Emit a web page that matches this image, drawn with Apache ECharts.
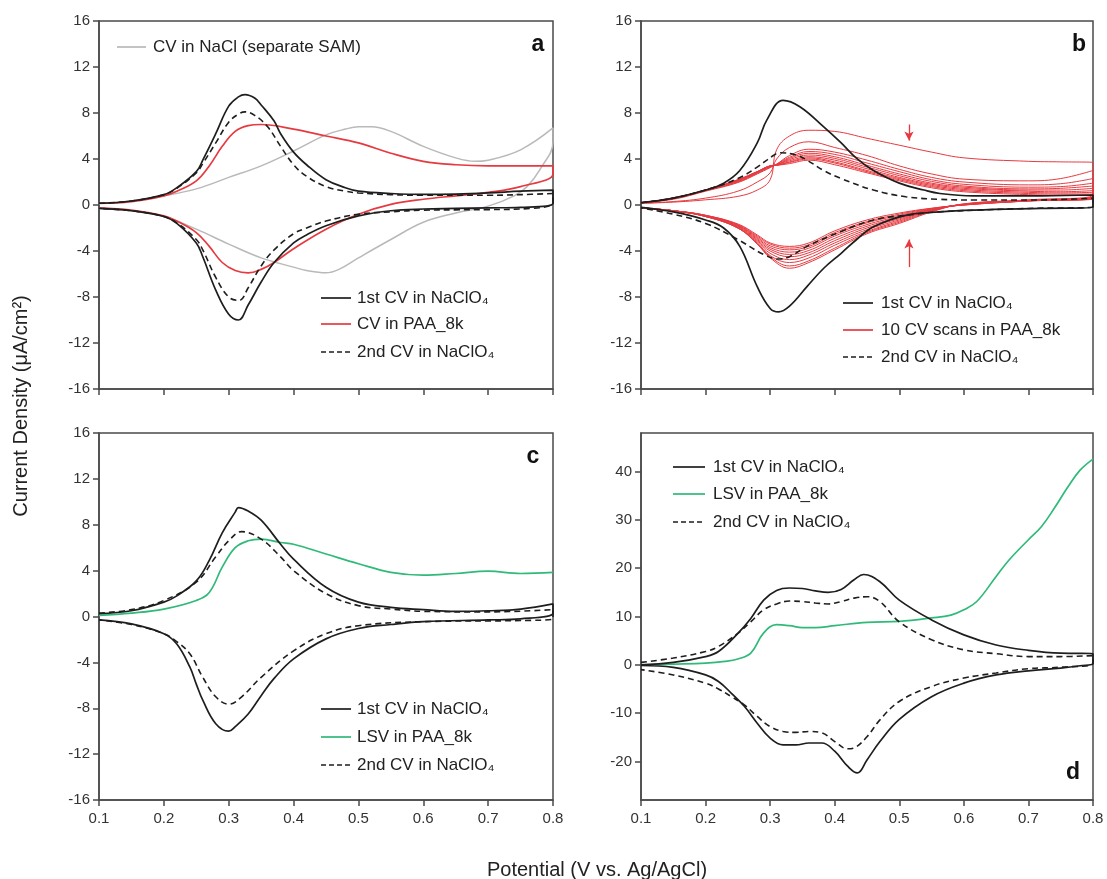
<!DOCTYPE html>
<html><head><meta charset="utf-8">
<script src="https://cdn.jsdelivr.net/npm/echarts@6/dist/echarts.min.js"></script>
<style>html,body{margin:0;padding:0;background:#fff}#c{width:1107px;height:879px}</style>
</head><body><div id="c"></div>
<script>
// ---------- DATA (potential V, current density) ----------
const X_TICKS = [0.1, 0.2, 0.3, 0.4, 0.5, 0.6, 0.7, 0.8];
const D_YTICKS = [-20, -10, 0, 10, 20, 30, 40];

// Panel a
const A_CV1 = [[0.10,0.15],[0.15,0.35],[0.20,0.9],[0.22,1.5],[0.25,2.9],[0.26,3.9],[0.28,6.2],[0.30,8.6],[0.315,9.4],[0.325,9.6],[0.34,9.3],[0.35,8.7],[0.37,7.3],[0.38,6.2],[0.40,4.6],[0.42,3.5],[0.45,2.2],[0.48,1.5],[0.50,1.2],[0.55,1.0],[0.60,0.92],[0.65,0.95],[0.70,1.05],[0.75,1.2],[0.80,1.3],
  [0.80,0.15],[0.75,-0.2],[0.70,-0.25],[0.65,-0.3],[0.60,-0.35],[0.55,-0.5],[0.50,-0.95],[0.45,-1.8],[0.42,-2.6],[0.40,-3.3],[0.37,-5.0],[0.35,-6.7],[0.33,-8.7],[0.315,-10.0],[0.30,-9.5],[0.28,-7.4],[0.26,-4.5],[0.25,-3.3],[0.22,-1.6],[0.20,-1.0],[0.15,-0.5],[0.10,-0.3]];
const A_CV2 = [[0.10,0.15],[0.15,0.35],[0.20,0.9],[0.22,1.45],[0.25,2.8],[0.26,3.6],[0.28,5.4],[0.30,7.2],[0.315,7.9],[0.325,8.1],[0.34,7.8],[0.36,6.8],[0.38,5.1],[0.40,3.5],[0.42,2.5],[0.45,1.6],[0.48,1.2],[0.50,1.05],[0.55,0.9],[0.60,0.85],[0.65,0.85],[0.70,0.85],[0.75,0.9],[0.80,1.0],
  [0.80,0.2],[0.75,-0.35],[0.70,-0.4],[0.65,-0.42],[0.60,-0.45],[0.55,-0.6],[0.50,-0.8],[0.45,-1.4],[0.42,-2.0],[0.40,-2.5],[0.37,-3.9],[0.35,-5.3],[0.33,-7.2],[0.316,-8.3],[0.30,-8.0],[0.28,-6.3],[0.26,-3.9],[0.25,-3.0],[0.22,-1.55],[0.20,-1.0],[0.15,-0.5],[0.10,-0.3]];
const A_PAA = [[0.10,0.15],[0.15,0.3],[0.20,0.8],[0.22,1.2],[0.25,2.1],[0.27,3.4],[0.29,5.1],[0.31,6.4],[0.33,6.9],[0.35,7.0],[0.40,6.6],[0.45,6.0],[0.50,5.4],[0.55,4.5],[0.60,3.8],[0.65,3.5],[0.70,3.4],[0.75,3.4],[0.80,3.4],
  [0.80,2.7],[0.75,1.6],[0.70,1.1],[0.65,0.8],[0.60,0.5],[0.55,0.05],[0.50,-0.8],[0.45,-2.1],[0.40,-3.8],[0.37,-5.0],[0.35,-5.6],[0.33,-5.9],[0.31,-5.7],[0.29,-5.0],[0.27,-3.6],[0.25,-2.4],[0.22,-1.4],[0.20,-0.95],[0.15,-0.45],[0.10,-0.25]];
const A_NACL = [[0.10,0.1],[0.15,0.35],[0.20,0.8],[0.25,1.4],[0.30,2.4],[0.35,3.4],[0.40,4.7],[0.45,6.1],[0.48,6.6],[0.50,6.8],[0.52,6.8],[0.55,6.4],[0.60,5.1],[0.65,4.1],[0.68,3.8],[0.70,3.9],[0.75,4.8],[0.80,6.7],
  [0.80,5.5],[0.78,3.1],[0.76,1.6],[0.74,0.8],[0.70,-0.1],[0.65,-0.7],[0.60,-1.5],[0.55,-3.0],[0.50,-4.6],[0.47,-5.6],[0.45,-5.9],[0.42,-5.7],[0.40,-5.4],[0.35,-4.6],[0.30,-3.4],[0.25,-2.1],[0.20,-1.0],[0.15,-0.5],[0.10,-0.3]];

// Panel b
const B_CV1 = [[0.10,0.2],[0.15,0.6],[0.20,1.3],[0.228,1.9],[0.253,3.0],[0.28,5.4],[0.295,7.4],[0.32,9.1],[0.346,8.55],[0.383,6.8],[0.41,5.4],[0.434,4.05],[0.46,3.0],[0.50,1.9],[0.538,1.3],[0.563,1.0],[0.615,0.8],[0.72,0.8],[0.80,0.87],
  [0.80,-0.2],[0.72,-0.3],[0.615,-0.45],[0.563,-0.6],[0.51,-0.9],[0.46,-1.9],[0.434,-3.0],[0.41,-4.2],[0.383,-5.5],[0.357,-7.1],[0.33,-8.8],[0.313,-9.3],[0.30,-9.0],[0.28,-7.1],[0.253,-3.6],[0.228,-2.0],[0.20,-1.3],[0.15,-0.6],[0.10,-0.2]];
const B_CV2 = [[0.10,0.2],[0.15,0.6],[0.20,1.3],[0.25,2.3],[0.28,3.3],[0.305,4.3],[0.315,4.55],[0.34,4.35],[0.357,3.9],[0.383,3.0],[0.41,2.3],[0.46,1.3],[0.51,0.72],[0.56,0.5],[0.62,0.43],[0.70,0.43],[0.80,0.58],
  [0.80,-0.15],[0.70,-0.3],[0.62,-0.45],[0.56,-0.6],[0.51,-0.9],[0.46,-1.3],[0.41,-2.3],[0.357,-3.6],[0.33,-4.5],[0.313,-4.7],[0.29,-4.3],[0.25,-3.0],[0.20,-1.6],[0.15,-0.8],[0.10,-0.25]];
// 10 CV scans in PAA_8k: forward potentials / reverse potentials, one row per scan
const B_PAA_UP_V = [0.10,0.15,0.20,0.25,0.28,0.30,0.31,0.33,0.36,0.40,0.45,0.50,0.55,0.60,0.70,0.75,0.80];
const B_PAA_DN_V = [0.80,0.70,0.60,0.55,0.50,0.45,0.40,0.36,0.33,0.30,0.28,0.25,0.20,0.15,0.10];
const B_PAA_UP = [
  [0.15,0.25,0.45,0.75,1.3,2.2,4.8,6.0,6.5,6.4,5.8,5.2,4.6,4.1,3.8,3.75,3.7],
  [0.15,0.3,0.6,1.2,2.0,2.8,4.0,5.0,5.5,5.0,4.3,3.4,2.7,2.25,2.1,2.3,3.0],
  [0.2,0.5,1.2,1.95,2.7,3.25,3.55,4.3,4.85,4.6,3.9,3.1,2.4,2.0,1.75,1.85,2.3],
  [0.2,0.55,1.25,2.0,2.75,3.3,3.55,4.15,4.65,4.4,3.65,2.9,2.2,1.8,1.55,1.6,1.9],
  [0.2,0.55,1.25,2.05,2.8,3.35,3.5,4.05,4.5,4.2,3.45,2.7,2.05,1.65,1.4,1.45,1.65],
  [0.2,0.6,1.3,2.1,2.85,3.35,3.5,3.95,4.35,4.05,3.3,2.55,1.9,1.55,1.3,1.3,1.45],
  [0.2,0.6,1.3,2.15,2.85,3.4,3.5,3.85,4.2,3.9,3.15,2.4,1.8,1.45,1.2,1.15,1.25],
  [0.2,0.6,1.3,2.15,2.9,3.4,3.45,3.75,4.1,3.75,3.0,2.3,1.7,1.35,1.1,1.05,1.1],
  [0.2,0.6,1.3,2.2,2.9,3.4,3.45,3.7,4.0,3.65,2.9,2.2,1.6,1.25,1.0,0.95,0.95],
  [0.2,0.6,1.3,2.2,2.9,3.4,3.45,3.6,3.9,3.5,2.8,2.1,1.5,1.15,0.9,0.85,0.85]
];
const B_PAA_DN = [
  [0.9,0.45,0.1,-0.6,-1.6,-2.5,-3.9,-5.0,-5.5,-4.6,-3.4,-2.0,-1.0,-0.5,-0.25],
  [0.8,0.42,0.08,-0.55,-1.5,-2.4,-3.75,-4.85,-5.3,-4.5,-3.35,-2.0,-1.0,-0.5,-0.25],
  [0.75,0.4,0.06,-0.5,-1.4,-2.3,-3.5,-4.6,-5.0,-4.4,-3.3,-2.0,-1.0,-0.5,-0.25],
  [0.7,0.4,0.05,-0.45,-1.3,-2.15,-3.3,-4.35,-4.75,-4.2,-3.2,-1.95,-1.0,-0.5,-0.25],
  [0.7,0.38,0.04,-0.42,-1.2,-2.0,-3.1,-4.15,-4.5,-4.0,-3.1,-1.9,-0.95,-0.5,-0.25],
  [0.65,0.38,0.03,-0.4,-1.1,-1.85,-2.9,-3.95,-4.3,-3.85,-3.0,-1.85,-0.95,-0.5,-0.25],
  [0.65,0.36,0.02,-0.37,-1.0,-1.7,-2.7,-3.75,-4.1,-3.7,-2.9,-1.8,-0.95,-0.5,-0.25],
  [0.6,0.36,0.01,-0.34,-0.9,-1.55,-2.55,-3.6,-3.9,-3.55,-2.8,-1.75,-0.9,-0.5,-0.25],
  [0.6,0.35,0.0,-0.3,-0.8,-1.45,-2.4,-3.45,-3.75,-3.4,-2.7,-1.7,-0.9,-0.5,-0.25],
  [0.55,0.35,0.0,-0.28,-0.7,-1.3,-2.25,-3.3,-3.6,-3.3,-2.6,-1.65,-0.9,-0.5,-0.25]
];
const B_ARROW_DOWN = [[0.515,7.0],[0.515,5.6]];
const B_ARROW_UP = [[0.515,-5.4],[0.515,-3.0]];

// Panel c
const C_CV1 = [[0.10,0.25],[0.15,0.5],[0.20,1.25],[0.22,1.8],[0.25,3.1],[0.27,4.9],[0.29,7.3],[0.31,9.1],[0.315,9.5],[0.33,9.2],[0.35,8.4],[0.38,6.3],[0.40,5.0],[0.45,2.55],[0.50,1.25],[0.55,0.8],[0.60,0.6],[0.65,0.45],[0.70,0.5],[0.75,0.65],[0.80,1.1],
  [0.80,0.3],[0.75,-0.2],[0.70,-0.3],[0.60,-0.45],[0.55,-0.7],[0.50,-1.05],[0.45,-1.95],[0.40,-3.7],[0.37,-5.4],[0.35,-6.9],[0.33,-8.5],[0.31,-9.6],[0.30,-10.0],[0.28,-9.35],[0.26,-7.3],[0.25,-5.9],[0.24,-4.4],[0.22,-2.4],[0.20,-1.5],[0.15,-0.65],[0.10,-0.3]];
const C_CV2 = [[0.10,0.3],[0.15,0.6],[0.20,1.4],[0.25,3.0],[0.28,5.2],[0.30,6.6],[0.32,7.4],[0.35,6.75],[0.38,5.2],[0.40,4.0],[0.45,2.0],[0.50,0.95],[0.55,0.65],[0.60,0.45],[0.70,0.4],[0.80,0.6],
  [0.80,-0.2],[0.75,-0.35],[0.60,-0.45],[0.50,-0.8],[0.45,-1.5],[0.40,-3.0],[0.35,-5.3],[0.32,-7.0],[0.30,-7.65],[0.28,-7.0],[0.26,-5.3],[0.24,-3.25],[0.22,-2.2],[0.20,-1.5],[0.15,-0.7],[0.10,-0.3]];
const C_LSV = [[0.10,0.1],[0.15,0.3],[0.20,0.65],[0.25,1.4],[0.27,2.1],[0.29,4.3],[0.31,6.0],[0.33,6.6],[0.35,6.75],[0.38,6.45],[0.40,6.3],[0.45,5.45],[0.50,4.6],[0.55,3.85],[0.60,3.6],[0.65,3.75],[0.70,3.95],[0.75,3.75],[0.80,3.85]];

// Panel d
const D_CV1 = [[0.10,0.0],[0.15,0.5],[0.20,1.7],[0.22,2.75],[0.25,6.5],[0.27,9.6],[0.29,13.4],[0.31,15.4],[0.33,15.9],[0.35,15.8],[0.37,15.3],[0.39,15.0],[0.41,15.6],[0.43,17.6],[0.445,18.7],[0.47,17.2],[0.50,13.4],[0.55,9.3],[0.60,6.2],[0.65,4.1],[0.70,3.0],[0.75,2.4],[0.80,2.3],
  [0.80,0.3],[0.78,-0.2],[0.75,-0.7],[0.70,-1.25],[0.65,-2.1],[0.60,-3.8],[0.55,-6.6],[0.50,-11.3],[0.47,-15.9],[0.45,-19.7],[0.435,-22.4],[0.42,-21.0],[0.40,-17.9],[0.38,-16.2],[0.36,-16.2],[0.34,-16.6],[0.32,-16.6],[0.30,-15.2],[0.28,-12.1],[0.26,-8.6],[0.24,-5.9],[0.22,-3.45],[0.20,-2.1],[0.15,-0.55],[0.10,-0.15]];
const D_CV2 = [[0.10,0.5],[0.15,1.4],[0.20,2.75],[0.22,3.8],[0.25,6.5],[0.27,8.9],[0.29,11.4],[0.31,12.6],[0.33,13.2],[0.35,13.1],[0.37,12.8],[0.39,12.6],[0.41,13.1],[0.43,13.8],[0.45,14.1],[0.47,13.1],[0.50,8.9],[0.55,5.2],[0.60,3.1],[0.65,2.3],[0.70,1.7],[0.75,1.7],[0.80,1.9],
  [0.80,0.3],[0.75,-0.5],[0.70,-0.8],[0.65,-1.7],[0.60,-2.75],[0.55,-4.5],[0.50,-7.6],[0.47,-11.4],[0.45,-14.9],[0.43,-17.2],[0.42,-17.4],[0.40,-15.9],[0.38,-14.1],[0.36,-13.8],[0.34,-14.0],[0.32,-13.8],[0.30,-12.8],[0.28,-10.7],[0.26,-8.3],[0.24,-6.6],[0.22,-5.0],[0.20,-3.8],[0.15,-2.1],[0.10,-1.0]];
const D_LSV = [[0.10,0.0],[0.15,0.15],[0.20,0.35],[0.23,0.7],[0.25,1.2],[0.27,2.4],[0.29,6.6],[0.31,8.3],[0.33,8.1],[0.35,7.7],[0.37,7.7],[0.40,8.1],[0.45,8.8],[0.50,9.0],[0.55,9.7],[0.58,10.3],[0.60,11.4],[0.62,13.1],[0.65,18.3],[0.67,21.7],[0.70,25.9],[0.72,28.6],[0.74,32.4],[0.76,36.6],[0.78,40.3],[0.80,42.6]];

// ---------- STYLE ----------
const AX = '#4a4a4a';
const FONT = '"Liberation Sans", Arial, sans-serif';
const BLACK = '#1e1e1e', RED = '#e63a40', GRAY = '#b9b9b9', GREEN = '#2fba78';

function xAx(gi, showLabel) {
  return {type:'value', gridIndex:gi, min:0.1, max:0.8, interval:0.1,
    axisLine:{show:true, onZero:false, lineStyle:{color:AX, width:1.5}},
    axisTick:{show:true, inside:false, length:6, lineStyle:{color:AX, width:1.5}},
    axisLabel:{show:showLabel, formatter:v=>v.toFixed(1), fontSize:15, color:'#333', margin:11, fontFamily:FONT},
    splitLine:{show:false}};
}
function yAx(gi, opts) {
  const base = {type:'value', gridIndex:gi, min:-16, max:16, interval:4,
    axisLine:{show:true, onZero:false, lineStyle:{color:AX, width:1.5}},
    axisTick:{show:true, inside:false, length:6, lineStyle:{color:AX, width:1.5}},
    axisLabel:{show:true, fontSize:15, color:'#333', margin:9, fontFamily:FONT},
    splitLine:{show:false}};
  return Object.assign(base, opts || {});
}
function ln(gi, data, color, width, dash, z) {
  return {type:'line', xAxisIndex:gi, yAxisIndex:gi, data:data, symbol:'none', showSymbol:false,
    smooth:0.4, clip:true, z:z||3, silent:true,
    lineStyle:{color:color, width:width, type: dash ? [6,4] : 'solid'}};
}
const grids = [
  {left:99, top:21, width:454, height:368},
  {left:641, top:21, width:452, height:368},
  {left:99, top:433, width:454, height:367},
  {left:641, top:433, width:452, height:367}
].map(g => Object.assign(g, {show:true, borderColor:AX, borderWidth:1.5, backgroundColor:'transparent'}));

const series = [];
// panel a
series.push(ln(0, A_NACL, GRAY, 1.5, false, 2));
series.push(ln(0, A_PAA, RED, 1.7, false, 3));
series.push(ln(0, A_CV2, BLACK, 1.6, true, 4));
series.push(ln(0, A_CV1, BLACK, 1.7, false, 5));
// panel b red scans
for (let s = 0; s < B_PAA_UP.length; s++) {
  const d = B_PAA_UP_V.map((v,i)=>[v, B_PAA_UP[s][i]]).concat(B_PAA_DN_V.map((v,i)=>[v, B_PAA_DN[s][i]]));
  series.push(ln(1, d, RED, 1.0, false, 2));
}
const bArrows = {type:'line', xAxisIndex:1, yAxisIndex:1, data:[], symbol:'none', silent:true,
  markLine:{silent:true, symbol:['none','arrow'], symbolSize:[7,9], label:{show:false},
    lineStyle:{color:RED, width:1.3, type:'solid'},
    data:[[{coord:B_ARROW_DOWN[0]},{coord:B_ARROW_DOWN[1]}],[{coord:B_ARROW_UP[0]},{coord:B_ARROW_UP[1]}]]}};
series.push(bArrows);
series.push(ln(1, B_CV2, BLACK, 1.6, true, 4));
series.push(ln(1, B_CV1, BLACK, 1.7, false, 5));
// panel c
series.push(ln(2, C_LSV, GREEN, 1.7, false, 3));
series.push(ln(2, C_CV2, BLACK, 1.6, true, 4));
series.push(ln(2, C_CV1, BLACK, 1.7, false, 5));
// panel d
series.push(ln(3, D_LSV, GREEN, 1.7, false, 3));
series.push(ln(3, D_CV2, BLACK, 1.6, true, 4));
series.push(ln(3, D_CV1, BLACK, 1.7, false, 5));

// legends & labels (graphic)
const LF = '17px ' + FONT;
function legItem(x1, x2, y, tx, text, color, dash) {
  return [
    {type:'line', shape:{x1:x1, y1:y, x2:x2, y2:y}, style:{stroke:color, lineWidth:1.7, lineDash: dash ? [5,3] : null}, z:10},
    {type:'text', x:tx, y:y, style:{text:text, font:LF, fill:'#222', textAlign:'left', textVerticalAlign:'middle'}, z:10}
  ];
}
const NA = '1st CV in NaClO\u2084', NA2 = '2nd CV in NaClO\u2084';
let graphic = [];
graphic = graphic.concat(legItem(117,146,47,153,'CV in NaCl (separate SAM)',GRAY,false));
graphic = graphic.concat(legItem(321,351,298,357,NA,BLACK,false));
graphic = graphic.concat(legItem(321,351,324,357,'CV in PAA_8k',RED,false));
graphic = graphic.concat(legItem(321,351,352,357,NA2,BLACK,true));
graphic = graphic.concat(legItem(843,873,303,881,NA,BLACK,false));
graphic = graphic.concat(legItem(843,873,330,881,'10 CV scans in PAA_8k',RED,false));
graphic = graphic.concat(legItem(843,873,357,881,NA2,BLACK,true));
graphic = graphic.concat(legItem(321,351,709,357,NA,BLACK,false));
graphic = graphic.concat(legItem(321,351,737,357,'LSV in PAA_8k',GREEN,false));
graphic = graphic.concat(legItem(321,351,765,357,NA2,BLACK,true));
graphic = graphic.concat(legItem(673,705,467,713,NA,BLACK,false));
graphic = graphic.concat(legItem(673,705,494,713,'LSV in PAA_8k',GREEN,false));
graphic = graphic.concat(legItem(673,705,522,713,NA2,BLACK,true));
const PL = 'bold 23px ' + FONT;
[['a',538,45],['b',1079,45],['c',533,457],['d',1073,773]].forEach(p => {
  graphic.push({type:'text', x:p[1], y:p[2], style:{text:p[0], font:PL, fill:'#111', textAlign:'center', textVerticalAlign:'middle'}, z:10});
});
graphic.push({type:'text', x:21, y:406, rotation:Math.PI/2, style:{text:'Current Density (\u03bcA/cm\u00b2)', font:'20px ' + FONT, fill:'#222', textAlign:'center', textVerticalAlign:'middle'}, z:10});
graphic.push({type:'text', x:597, y:870, style:{text:'Potential (V vs. Ag/AgCl)', font:'20px ' + FONT, fill:'#222', textAlign:'center', textVerticalAlign:'middle'}, z:10});

const chart = echarts.init(document.getElementById('c'), null, {renderer:'canvas'});
chart.setOption({
  animation:false,
  backgroundColor:'#fff',
  grid:grids,
  xAxis:[xAx(0,false), xAx(1,false), xAx(2,true), xAx(3,true)],
  yAxis:[yAx(0), yAx(1), yAx(2), yAx(3, {min:-28, max:48, interval:undefined,
    axisLabel:{show:true, fontSize:15, color:'#333', margin:9, fontFamily:FONT, customValues:D_YTICKS},
    axisTick:{show:true, inside:false, length:6, lineStyle:{color:AX, width:1.5}, customValues:D_YTICKS}})],
  series:series,
  graphic:graphic
});
</script></body></html>
